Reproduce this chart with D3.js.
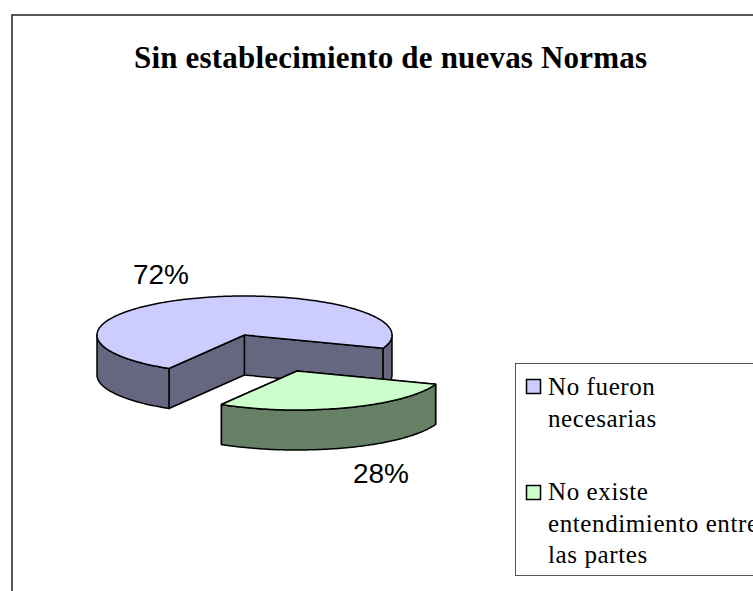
<!DOCTYPE html>
<html><head><meta charset="utf-8">
<script src="https://cdn.jsdelivr.net/npm/d3@7"></script>
<style>html,body{margin:0;padding:0;background:#fff;overflow:hidden}svg{display:block}</style>
</head><body><div id="c"></div>
<script>
const categories=[["No fueron","necesarias"],["No existe","entendimiento entre","las partes"]];
const values=[72,28];
const labels=["72%","28%"];
const topColors=["#CCCCFF","#CCFFCC"];
const sideColors=["#666680","#668066"];
const title="Sin establecimiento de nuevas Normas";

const W=753,H=591;
const svg=d3.select("#c").append("svg").attr("width",W).attr("height",H);
svg.append("rect").attr("x",12).attr("y",15).attr("width",W).attr("height",H).attr("fill","#fff").attr("stroke","#222").attr("stroke-width",1.5);
svg.append("text").attr("x",390.5).attr("y",68).attr("text-anchor","middle").attr("font-family","Liberation Serif").attr("font-weight","bold").attr("font-size",31).attr("textLength",513).attr("lengthAdjust","spacing").text(title);

// pie geometry: 3D tilt as ellipse, clockwise angle from east
const rx=147.5,ry=39,depth=40;
const centers=[[244.5,335],[297,371]];
const start=20*Math.PI/180;
const arcs=d3.pie().sort(null).value(d=>d).startAngle(start+(28/100)*2*Math.PI).endAngle(start+(28/100)*2*Math.PI+2*Math.PI)(values);
const line=d3.line();
function pts(a0,a1,c,dy=0){
  const n=Math.max(2,Math.ceil(Math.abs(a1-a0)/0.02)),o=[];
  for(let i=0;i<=n;i++){const a=a0+(a1-a0)*i/n;o.push([c[0]+rx*Math.cos(a),c[1]+dy+ry*Math.sin(a)]);}
  return o;
}
function wallPath(a0,a1,c){return line(pts(a0,a1,c).concat(pts(a1,a0,c,depth)))+"Z";}
arcs.forEach((d,i)=>{
  const c=centers[i],a0=d.startAngle,a1=d.endAngle,g=svg.append("g");
  const style=s=>s.attr("stroke","#000").attr("stroke-width",1.5).attr("stroke-linejoin","round");
  const side=sideColors[i];
  const segs=[[0,Math.PI],[2*Math.PI,3*Math.PI]];
  const radial=a=>{const p=pts(a,a,c)[0];return line([c,p,[p[0],p[1]+depth],[c[0],c[1]+depth]])+"Z";};
  style(g.append("path").attr("d",radial(a0)).attr("fill",side));
  style(g.append("path").attr("d",radial(a1)).attr("fill",side));
  segs.forEach(([s,e])=>{const l=Math.max(a0,s),h=Math.min(a1,e);
    if(h>l)style(g.append("path").attr("d",wallPath(l,h,c)).attr("fill",side));});
  style(g.append("path").attr("d",line([c].concat(pts(a0,a1,c)))+"Z").attr("fill",topColors[i]));
});

// data labels
const labelPos=[[161,284],[381,483]];
labels.forEach((t,i)=>svg.append("text").attr("x",labelPos[i][0]).attr("y",labelPos[i][1]).attr("text-anchor","middle").attr("font-family","Liberation Sans").attr("font-size",28).attr("fill","#000").text(t));

// legend
svg.append("rect").attr("x",515.5).attr("y",363.5).attr("width",W).attr("height",212).attr("fill","#fff").attr("stroke","#555");
const sw=[379,485],base=[[395,427],[500,532,563]];
categories.forEach((ls,i)=>{
  svg.append("rect").attr("x",526.5).attr("y",sw[i]+.5).attr("width",14).attr("height",14).attr("fill",topColors[i]).attr("stroke","#000").attr("stroke-width",1.5);
  ls.forEach((t,j)=>svg.append("text").attr("x",548).attr("y",base[i][j]).attr("font-family","Liberation Serif").attr("font-size",25).attr("letter-spacing",0.6).attr("fill","#000").text(t));
});
</script></body></html>
